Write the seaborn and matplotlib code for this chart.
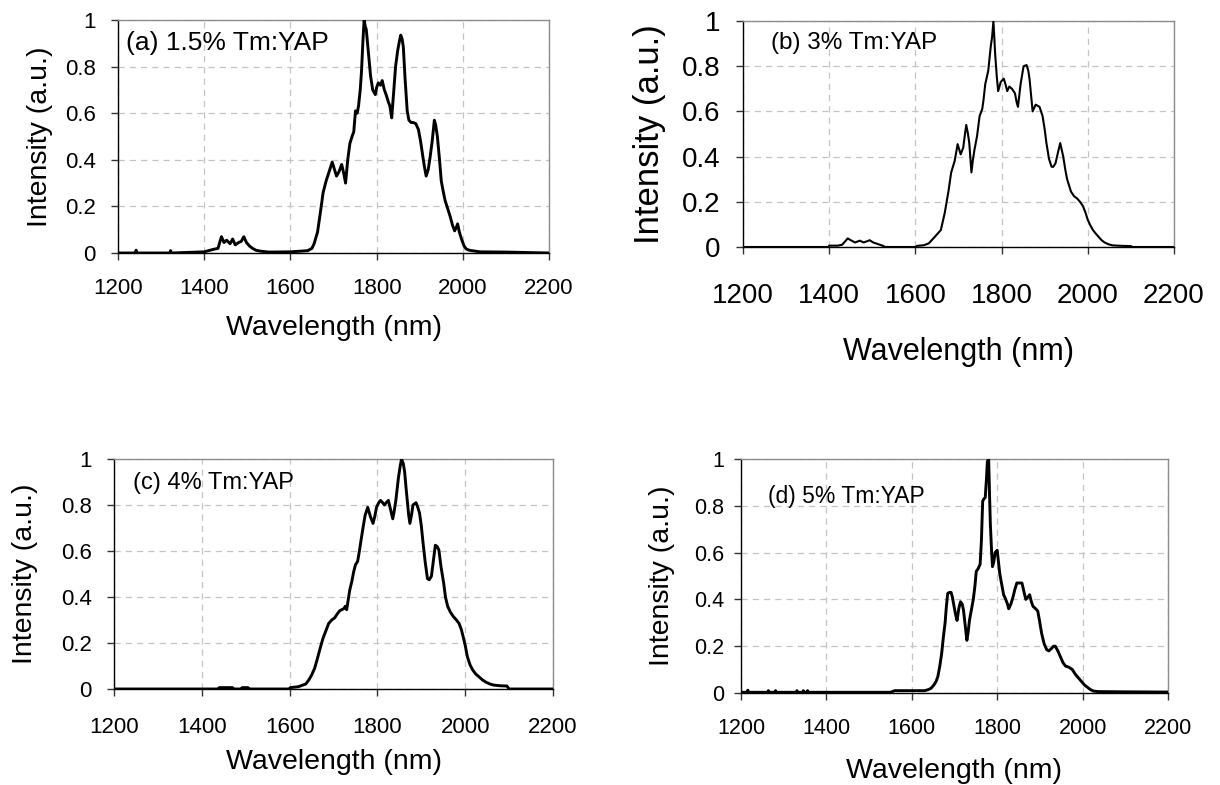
import matplotlib
matplotlib.use("Agg")
import matplotlib.pyplot as plt
import seaborn as sns
import pandas as pd
from matplotlib.ticker import FixedLocator, FuncFormatter

# ---------------------------------------------------------------- data
x_ticks = [1200, 1400, 1600, 1800, 2000, 2200]
y_ticks = [0, 0.2, 0.4, 0.6, 0.8, 1.0]
x_label = "Wavelength (nm)"
y_label = "Intensity (a.u.)"
sample_labels = ["(a) 1.5% Tm:YAP", "(b) 3% Tm:YAP", "(c) 4% Tm:YAP", "(d) 5% Tm:YAP"]

wl_a = [1200, 1240, 1242, 1244, 1320, 1322, 1324, 1400, 1420, 1432, 1440, 1446, 1452,
        1460, 1466, 1472, 1480, 1486, 1492, 1498, 1505, 1512, 1520, 1530, 1550, 1600,
        1640, 1650, 1655, 1663, 1670, 1676, 1683, 1690, 1697, 1702, 1707, 1713, 1719,
        1724, 1728, 1733, 1738, 1743, 1747, 1751, 1755, 1758, 1762, 1765, 1768, 1771,
        1774, 1776, 1779, 1782, 1786, 1791, 1797, 1800, 1804, 1809, 1813, 1818, 1822,
        1827, 1831, 1835, 1840, 1844, 1849, 1853, 1856, 1859, 1862, 1866, 1871, 1875,
        1880, 1885, 1891, 1897, 1902, 1906, 1911, 1915, 1920, 1924, 1929, 1934, 1937,
        1941, 1946, 1950, 1955, 1959, 1965, 1971, 1976, 1981, 1985, 1988, 1992, 1997,
        2003, 2008, 2015, 2021, 2040, 2100, 2200]
int_a = [0.0, 0.0, 0.012, 0.0, 0.0, 0.01, 0.0, 0.005, 0.015, 0.02, 0.07, 0.045, 0.055,
         0.04, 0.06, 0.035, 0.045, 0.05, 0.07, 0.045, 0.03, 0.02, 0.012, 0.008, 0.004, 0.005,
         0.01, 0.02, 0.04, 0.09, 0.18, 0.26, 0.31, 0.35, 0.39, 0.36, 0.33, 0.35, 0.38,
         0.34, 0.30, 0.40, 0.47, 0.50, 0.52, 0.61, 0.60, 0.63, 0.70, 0.78, 0.90, 1.0,
         0.97, 0.96, 0.90, 0.84, 0.76, 0.70, 0.68, 0.71, 0.73, 0.72, 0.74, 0.70, 0.68,
         0.65, 0.63, 0.58, 0.70, 0.80, 0.87, 0.91, 0.935, 0.92, 0.885, 0.75, 0.61, 0.57,
         0.56, 0.56, 0.555, 0.53, 0.48, 0.43, 0.37, 0.33, 0.36, 0.41, 0.48, 0.57, 0.55,
         0.50, 0.40, 0.31, 0.26, 0.225, 0.19, 0.155, 0.12, 0.095, 0.11, 0.125, 0.09, 0.06,
         0.03, 0.017, 0.012, 0.01, 0.005, 0.004, 0.0]

wl_b = [1200, 1398, 1400, 1420, 1430, 1443, 1450, 1460, 1471, 1480, 1494, 1502, 1510,
        1525, 1530, 1600, 1604, 1620, 1631, 1645, 1652, 1659, 1668, 1677, 1683, 1691,
        1698, 1705, 1711, 1715, 1718, 1722, 1725, 1730, 1733, 1737, 1743, 1749, 1755,
        1758, 1762, 1769, 1775, 1778, 1781, 1783, 1785, 1789, 1792, 1798, 1805, 1809,
        1813, 1818, 1824, 1831, 1835, 1838, 1841, 1844, 1851, 1858, 1862, 1865, 1869,
        1872, 1879, 1888, 1895, 1900, 1904, 1910, 1916, 1920, 1925, 1931, 1936, 1943,
        1948, 1952, 1961, 1968, 1975, 1982, 1989, 1995, 2000, 2006, 2012, 2019, 2026,
        2032, 2039, 2048, 2058, 2080, 2099, 2105, 2200]
int_b = [0.0, 0.0, 0.006, 0.006, 0.01, 0.038, 0.03, 0.02, 0.028, 0.02, 0.03, 0.02, 0.015,
         0.005, 0.0, 0.0, 0.005, 0.008, 0.016, 0.045, 0.06, 0.075, 0.15, 0.25, 0.33, 0.38,
         0.455, 0.41, 0.44, 0.50, 0.54, 0.50, 0.46, 0.33, 0.38, 0.43, 0.49, 0.58, 0.61,
         0.65, 0.72, 0.78, 0.89, 0.93, 1.0, 0.93, 0.855, 0.75, 0.69, 0.73, 0.745, 0.72,
         0.69, 0.71, 0.70, 0.68, 0.64, 0.62, 0.67, 0.72, 0.80, 0.805, 0.78, 0.74, 0.66,
         0.60, 0.63, 0.62, 0.58, 0.52, 0.46, 0.39, 0.355, 0.355, 0.37, 0.42, 0.46, 0.40,
         0.34, 0.30, 0.245, 0.225, 0.215, 0.20, 0.18, 0.15, 0.12, 0.095, 0.075, 0.058, 0.043,
         0.03, 0.02, 0.012, 0.007, 0.005, 0.004, 0.0, 0.0]

wl_c = [1200, 1438, 1440, 1470, 1472, 1490, 1492, 1505, 1507, 1598, 1602, 1620, 1637,
        1644, 1650, 1657, 1663, 1670, 1676, 1682, 1689, 1696, 1703, 1708, 1714, 1719,
        1724, 1727, 1730, 1737, 1742, 1746, 1750, 1755, 1759, 1763, 1768, 1772, 1778,
        1784, 1790, 1794, 1798, 1803, 1807, 1812, 1816, 1820, 1825, 1830, 1835, 1838,
        1842, 1845, 1848, 1852, 1855, 1859, 1862, 1865, 1868, 1871, 1874, 1878, 1881,
        1888, 1892, 1896, 1900, 1904, 1909, 1914, 1918, 1923, 1927, 1932, 1936, 1940,
        1945, 1951, 1955, 1960, 1966, 1973, 1980, 1986, 1991, 1995, 2000, 2005, 2011,
        2017, 2024, 2031, 2039, 2047, 2056, 2065, 2080, 2095, 2100, 2200]
int_c = [0.0, 0.0, 0.006, 0.006, 0.0, 0.0, 0.006, 0.006, 0.0, 0.0, 0.006, 0.01, 0.022,
         0.04, 0.06, 0.09, 0.13, 0.18, 0.22, 0.25, 0.285, 0.30, 0.31, 0.325, 0.34, 0.345,
         0.35, 0.36, 0.345, 0.43, 0.47, 0.51, 0.54, 0.555, 0.60, 0.65, 0.71, 0.755, 0.79,
         0.75, 0.72, 0.75, 0.79, 0.81, 0.82, 0.81, 0.80, 0.81, 0.82, 0.78, 0.74, 0.77,
         0.82, 0.87, 0.92, 0.97, 1.0, 0.98, 0.945, 0.88, 0.82, 0.76, 0.72, 0.76, 0.80,
         0.81, 0.79, 0.765, 0.71, 0.635, 0.55, 0.48, 0.475, 0.49, 0.55, 0.625, 0.62, 0.605,
         0.53, 0.46, 0.40, 0.36, 0.335, 0.315, 0.30, 0.285, 0.26, 0.23, 0.19, 0.14, 0.105,
         0.083, 0.065, 0.054, 0.04, 0.03, 0.022, 0.017, 0.014, 0.013, 0.0, 0.0]

wl_d = [1200, 1215, 1216, 1217, 1263, 1264, 1265, 1280, 1281, 1282, 1330, 1331, 1332,
        1345, 1346, 1347, 1355, 1356, 1357, 1550, 1560, 1630, 1638, 1645, 1652, 1657,
        1661, 1666, 1670, 1674, 1678, 1681, 1684, 1688, 1692, 1695, 1698, 1702, 1706,
        1710, 1714, 1718, 1721, 1725, 1729, 1732, 1735, 1740, 1744, 1748, 1751, 1755,
        1760, 1763, 1766, 1769, 1772, 1775, 1777, 1780, 1782, 1784, 1787, 1789, 1792,
        1795, 1800, 1803, 1806, 1810, 1815, 1820, 1824, 1827, 1832, 1837, 1841, 1846,
        1852, 1858, 1863, 1867, 1872, 1876, 1880, 1884, 1890, 1895, 1899, 1904, 1910,
        1916, 1921, 1927, 1932, 1936, 1942, 1948, 1954, 1960, 1968, 1976, 1983, 1990,
        1997, 2004, 2011, 2018, 2026, 2036, 2100, 2200]
int_d = [0.003, 0.003, 0.012, 0.003, 0.003, 0.01, 0.003, 0.003, 0.01, 0.003, 0.003, 0.01, 0.003,
         0.003, 0.01, 0.003, 0.003, 0.01, 0.003, 0.003, 0.01, 0.01, 0.014, 0.02, 0.035, 0.05,
         0.07, 0.12, 0.17, 0.24, 0.30, 0.37, 0.425, 0.43, 0.43, 0.41, 0.38, 0.34, 0.31,
         0.36, 0.39, 0.38, 0.355, 0.29, 0.225, 0.26, 0.31, 0.36, 0.40, 0.46, 0.52, 0.53,
         0.55, 0.65, 0.82, 0.83, 0.835, 0.92, 0.99, 1.0, 0.85, 0.72, 0.60, 0.54, 0.56,
         0.60, 0.61, 0.56, 0.51, 0.47, 0.42, 0.40, 0.38, 0.36, 0.38, 0.41, 0.44, 0.47,
         0.47, 0.47, 0.43, 0.40, 0.41, 0.42, 0.39, 0.37, 0.36, 0.35, 0.31, 0.255, 0.21,
         0.185, 0.18, 0.19, 0.20, 0.20, 0.18, 0.155, 0.13, 0.115, 0.11, 0.10, 0.08, 0.065,
         0.05, 0.035, 0.025, 0.015, 0.008, 0.006, 0.005, 0.004]

# ---------------------------------------------------------------- layout
W, H = 1220, 785
sns.set_style("white")
plt.rcParams["font.family"] = ["Liberation Sans", "DejaVu Sans"]
plt.rcParams["text.color"] = "black"
plt.rcParams["axes.labelcolor"] = "black"

fig = plt.figure(figsize=(W / 100, H / 100), dpi=100)

# pixel boxes (left, top, right, bottom) and per-panel text styling
panels = [
    dict(wl=wl_a, it=int_a, box=(118, 20, 549, 253), xtfs=16, ytfs=16, xlfs=20.5, ylfs=20.5,
         nfs=19, note=(0.019, 0.90), xpad=13, ypad=11, xlab_y=328, ylab_x=40, lw=2.1),
    dict(wl=wl_b, it=int_b, box=(743, 21, 1174, 247), xtfs=20, ytfs=20, xlfs=22, ylfs=25,
         nfs=17.5, note=(0.065, 0.903), xpad=21, ypad=11, xlab_y=352, ylab_x=650, lw=1.5),
    dict(wl=wl_c, it=int_c, box=(114, 459, 553, 689), xtfs=16, ytfs=16, xlfs=20.5, ylfs=20.5,
         nfs=17, note=(0.043, 0.896), xpad=15, ypad=11, xlab_y=762, ylab_x=25, lw=2.1),
    dict(wl=wl_d, it=int_d, box=(741, 459, 1168, 693), xtfs=15.5, ytfs=15.5, xlfs=20.5,
         ylfs=20.5, nfs=16.5, note=(0.063, 0.838), xpad=13, ypad=7, xlab_y=771, ylab_x=662,
         lw=2.1),
]


def fmt_y(v, _):
    return "0" if v == 0 else ("1" if v == 1 else f"{v:.1f}")


for spec, label in zip(panels, sample_labels):
    l, t, r, b = spec["box"]
    ax = fig.add_axes([l / W, 1 - b / H, (r - l) / W, (b - t) / H])
    df = pd.DataFrame({"Wavelength": spec["wl"], "Intensity": spec["it"]})
    sns.lineplot(data=df, x="Wavelength", y="Intensity", ax=ax, color="black",
                 lw=spec["lw"], estimator=None, clip_on=True, zorder=3)
    ax.set_xlim(1200, 2200)
    ax.set_ylim(0, 1)
    ax.xaxis.set_major_locator(FixedLocator(x_ticks))
    ax.yaxis.set_major_locator(FixedLocator(y_ticks))
    ax.yaxis.set_major_formatter(FuncFormatter(fmt_y))
    ax.xaxis.set_major_formatter(FuncFormatter(lambda v, _: f"{int(v)}"))

    ax.grid(True, color="#c4c4c4", linestyle=(0, (5, 4)), linewidth=0.9, zorder=0)
    ax.set_axisbelow(True)
    for side in ("top", "right"):
        ax.spines[side].set_color("#8c8c8c")
        ax.spines[side].set_linewidth(1.0)
    for side in ("left", "bottom"):
        ax.spines[side].set_color("black")
        ax.spines[side].set_linewidth(1.0)
    ax.spines["bottom"].set_zorder(4)

    ax.tick_params(axis="both", direction="out", length=5, width=1, color="#333333",
                   labelcolor="black")
    ax.tick_params(axis="x", pad=spec["xpad"], bottom=True, labelsize=spec["xtfs"])
    ax.tick_params(axis="y", pad=spec["ypad"], left=True, labelsize=spec["ytfs"])

    h = b - t
    wdt = r - l
    ax.set_xlabel(x_label, fontsize=spec["xlfs"], va="center", color="black")
    ax.set_ylabel(y_label, fontsize=spec["ylfs"], va="center", ha="center", color="black")
    ax.xaxis.set_label_coords(0.5, -(spec["xlab_y"] - b) / h)
    ax.yaxis.set_label_coords(-(l - spec["ylab_x"]) / wdt, 0.5)

    ax.text(spec["note"][0], spec["note"][1], label, transform=ax.transAxes,
            fontsize=spec["nfs"], ha="left", va="center", color="black", zorder=5)

fig.savefig("out.png", dpi=100, facecolor="white")
